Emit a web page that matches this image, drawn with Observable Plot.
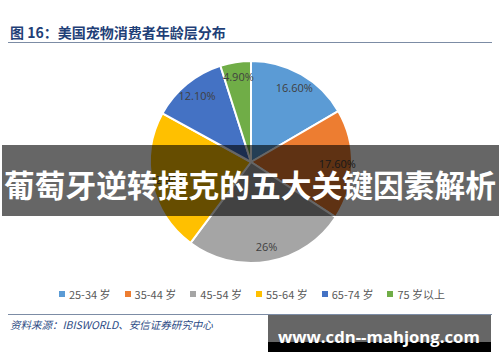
<!DOCTYPE html>
<html><head><meta charset="utf-8">
<script src="https://cdn.jsdelivr.net/npm/d3@7"></script>
<script src="https://cdn.jsdelivr.net/npm/@observablehq/plot@0.6"></script>
<style>
html,body{margin:0;padding:0;background:#fff;}
body{width:500px;height:362px;overflow:hidden;position:relative;font-family:"Noto Sans CJK SC","Noto Sans",sans-serif;}
.abs{position:absolute;}
#title{left:10px;top:22px;font-size:14px;font-weight:700;color:#1F3F77;white-space:nowrap;line-height:20px;}
#rule1{left:8px;top:42px;width:484px;height:0;border-top:1.5px solid #7C8CA5;}
#chart{left:0;top:50px;}
#legend{left:0;top:286px;width:504px;display:flex;justify-content:center;font-size:11px;color:#595959;line-height:16px;white-space:nowrap;}
#legend .item{display:flex;align-items:center;margin:0 7px;}
#legend .sw{width:6px;height:6px;margin-right:4px;}
#rule2{left:8px;top:314px;width:484px;height:0;border-top:1.5px solid #7C8CA5;}
#source{left:10px;top:317px;font-size:10.5px;font-style:italic;color:#2C4A84;white-space:nowrap;line-height:16px;}
#wm{left:268px;top:315px;width:223px;height:37px;background:#666;}
#wmb{left:268px;top:342px;width:223px;height:10px;background:#000;}
#wmt{color:#fff;font-weight:700;white-space:nowrap;font-family:"Open Sans","Noto Sans",sans-serif;line-height:1;}
#banner{left:2px;top:145px;width:497px;height:71px;background:rgba(0,0,0,0.6);}
#bannert{color:#fff;font-weight:700;white-space:nowrap;line-height:1;}
</style></head>
<body>
<script>
// ---- data ----
const categories = ["25-34 岁", "35-44 岁", "45-54 岁", "55-64 岁", "65-74 岁", "75 岁以上"];
const shares = [16.6, 17.6, 26, 22.8, 12.1, 4.9];
const shareLabels = ["16.60%", "17.60%", "26%", "22.80%", "12.10%", "4.90%"];
const colors = ["#5B9BD5", "#ED7D31", "#A5A5A5", "#FFC000", "#4472C4", "#70AD47"];
const titleText = "图 16：美国宠物消费者年龄层分布";
const sourceText = "资料来源：IBISWORLD、安信证券研究中心";
const bannerText = "葡萄牙逆转捷克的五大关键因素解析";
const watermarkText = "www.cdn--mahjong.com";

// ---- layout ----
const W = 500, H = 230, CX = 251, CY = 112, R = 101;

const pie = d3.pie().sort(null).value(d => d)(shares);
const rows = categories.map((c, i) => {
  const a = (pie[i].startAngle + pie[i].endAngle) / 2;
  return {category: c, share: shares[i], label: shareLabels[i],
          start: pie[i].startAngle, end: pie[i].endAngle,
          lx: 0.85 * Math.sin(a), ly: 0.85 * Math.cos(a)};
});

function el(id, text) {
  const d = document.createElement("div");
  d.id = id; d.className = "abs";
  if (text != null) d.textContent = text;
  document.body.appendChild(d);
  return d;
}

el("title", titleText);
el("rule1");

const colorFallback = d3.scaleOrdinal(categories, colors);
const chart = Plot.plot({
  width: W, height: H, margin: 0,
  style: {background: "transparent", fontFamily: "'Open Sans','Noto Sans',sans-serif"},
  x: {domain: [-CX / R, (W - CX) / R], axis: null},
  y: {domain: [-(H - CY) / R, CY / R], axis: null},
  color: {domain: categories, range: colors},
  marks: [
    (index, scales) => {
      const sx = scales.x, sy = scales.y;
      const cx = sx(0), cy = sy(0), r = sx(1) - sx(0);
      const color = scales.color || colorFallback;
      const arc = d3.arc().innerRadius(0).outerRadius(r);
      const g = d3.create("svg:g").attr("transform", `translate(${cx},${cy})`);
      g.selectAll("path").data(rows).join("path")
        .attr("d", d => arc({startAngle: d.start, endAngle: d.end}))
        .attr("fill", d => color(d.category))
        .attr("stroke", "#fff").attr("stroke-width", 2).attr("stroke-linejoin", "round");
      return g.node();
    },
    Plot.text(rows, {x: "lx", y: "ly", text: "label", fill: "#404040", fontSize: 11})
  ]
});
const chartWrap = el("chart");
chartWrap.appendChild(chart);

const legend = el("legend");
categories.forEach((c, i) => {
  const it = document.createElement("div"); it.className = "item";
  const sw = document.createElement("div"); sw.className = "sw"; sw.style.background = colors[i];
  const tx = document.createElement("span"); tx.textContent = c;
  it.appendChild(sw); it.appendChild(tx); legend.appendChild(it);
});

el("rule2");
el("source", sourceText);
el("wm");
el("wmb");
const wmt = el("wmt", watermarkText);
const banner = el("banner");
const bt = el("bannert", bannerText);

function fit(node, family, weight, targetW) {
  const ctx = document.createElement("canvas").getContext("2d");
  ctx.font = `${weight} 100px ${family}`;
  const w = ctx.measureText(node.textContent).width;
  return 100 * targetW / w;
}
const bfs = fit(bt, '"Noto Sans CJK SC"', 700, 492);
bt.style.fontSize = bfs + "px";
bt.style.left = "4px";
bt.style.top = (186 - bfs * 0.55) + "px";

const wfs = fit(wmt, '"Open Sans"', 700, 202);
wmt.style.fontSize = wfs + "px";
wmt.style.left = "278px";
wmt.style.top = (343 - wfs * 0.86) + "px";
</script>
</body></html>
